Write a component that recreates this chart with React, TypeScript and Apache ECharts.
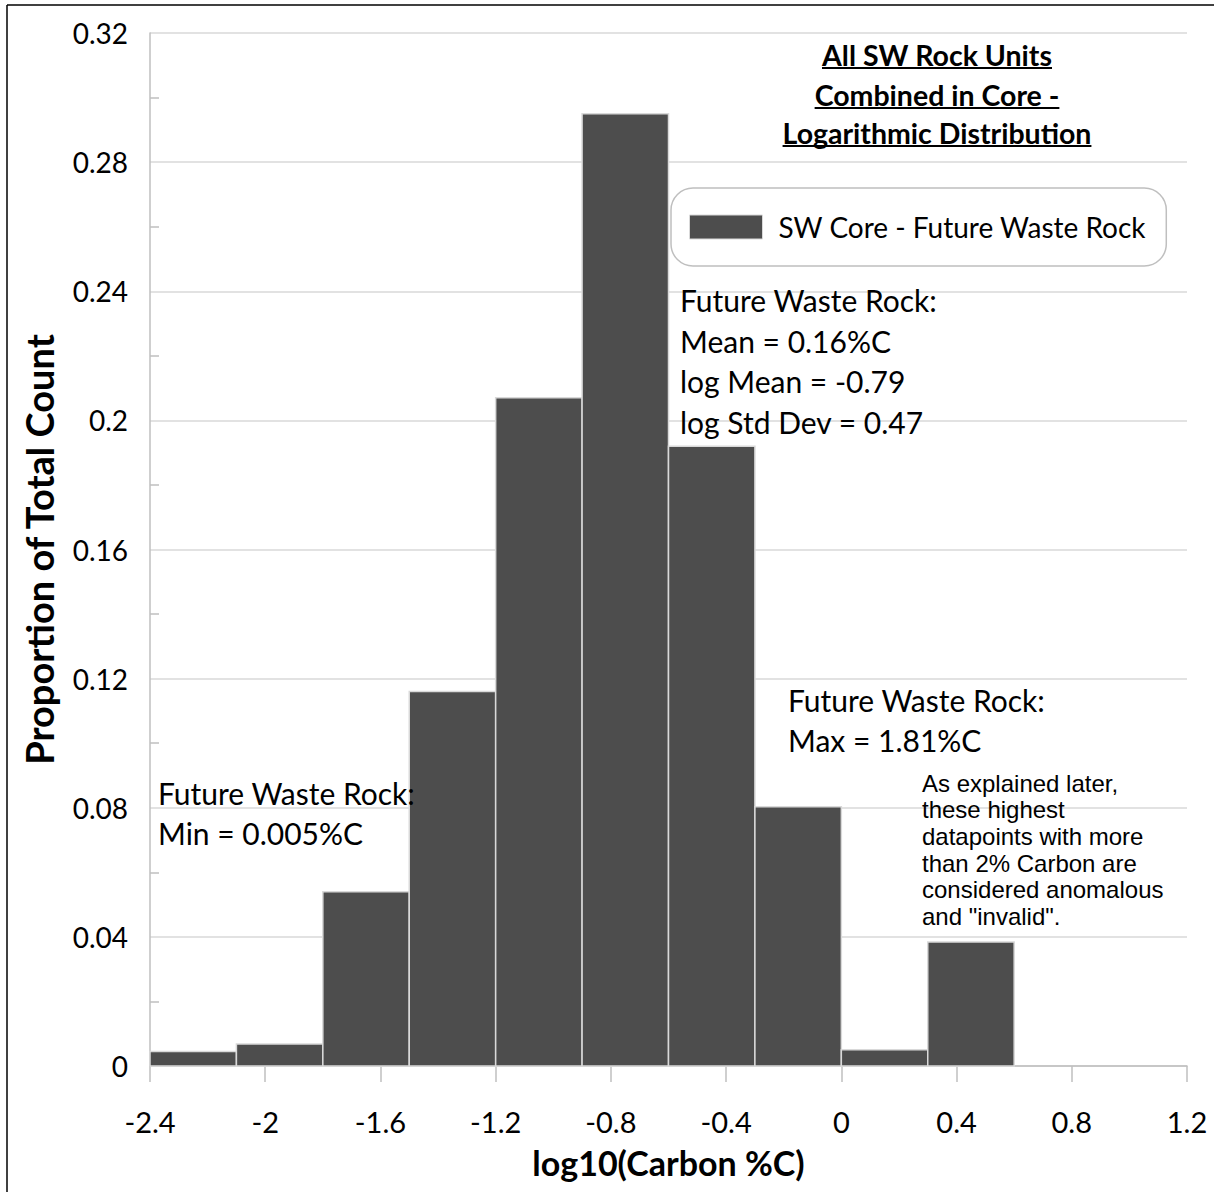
import React, { useEffect, useRef } from "react";
import * as echarts from "echarts";

// ---- data ----
const binLower = [-2.4, -2.1, -1.8, -1.5, -1.2, -0.9, -0.6, -0.3, 0.0, 0.3];
const binUpper = [-2.1, -1.8, -1.5, -1.2, -0.9, -0.6, -0.3, 0.0, 0.3, 0.6];
const proportions = [0.0045, 0.0068, 0.054, 0.116, 0.207, 0.295, 0.192, 0.0803, 0.005, 0.0384];
const seriesName = "SW Core - Future Waste Rock";
const titleLines = ["All SW Rock Units", "Combined in Core -", "Logarithmic Distribution"];
const meanNote = ["Future Waste Rock:", "Mean = 0.16%C", "log Mean = -0.79", "log Std Dev = 0.47"];
const minNote = ["Future Waste Rock:", "Min = 0.005%C"];
const maxNote = ["Future Waste Rock:", "Max = 1.81%C"];
const invalidNote = [
  "As explained later,",
  "these highest",
  "datapoints with more",
  "than 2% Carbon are",
  "considered anomalous",
  'and "invalid".',
];

const FONT = "Lato, 'Noto Sans', sans-serif";
const BAR = "#4d4d4d";
const GRID = "#d9d9d9";
const AXIS = "#bfbfbf";

function measure(text: string, font: string): number {
  const c = document.createElement("canvas");
  const ctx = c.getContext("2d");
  if (!ctx) return text.length * 12;
  ctx.font = font;
  return ctx.measureText(text).width;
}

export default function App() {
  const ref = useRef<HTMLDivElement>(null);
  useEffect(() => {
    if (!ref.current) return;
    const chart = echarts.init(ref.current, undefined, { renderer: "svg" });
    const data = binLower.map((lo, i) => [lo, binUpper[i], proportions[i]]);

    const titleSize = 28.5;
    const titleX = 937;
    const titleYs = [55, 95, 133];
    const titleEls: any[] = [];
    titleLines.forEach((t, i) => {
      const w = measure(t, `bold ${titleSize}px Lato`);
      titleEls.push({
        type: "text",
        x: titleX,
        y: titleYs[i],
        style: {
          text: t,
          fill: "#000",
          font: `bold ${titleSize}px ${FONT}`,
          textAlign: "center",
          textVerticalAlign: "middle",
        },
      });
      titleEls.push({
        type: "line",
        shape: { x1: titleX - w / 2, y1: titleYs[i] + 13, x2: titleX + w / 2, y2: titleYs[i] + 13 },
        style: { stroke: "#000", lineWidth: 2 },
      });
    });

    const note = (lines: string[], x: number, y: number, size: number, lh: number, family: string) => ({
      type: "text",
      x,
      y,
      z: 10,
      style: {
        text: lines.join("\n"),
        fill: "#000",
        font: `${size}px ${family}`,
        lineHeight: lh,
        textAlign: "left",
        textVerticalAlign: "top",
      },
    });

    chart.setOption({
      animation: false,
      backgroundColor: "#fff",
      grid: { left: 150, right: 27, top: 33, bottom: 126 },
      legend: {
        left: 671,
        top: 188,
        orient: "horizontal",
        backgroundColor: "#fff",
        borderColor: AXIS,
        borderWidth: 1.5,
        borderRadius: 22,
        padding: [22, 20, 22, 18],
        itemWidth: 73,
        itemHeight: 24,
        textStyle: { fontSize: 28, fontFamily: FONT, color: "#000", padding: [0, 0, 0, 11], lineHeight: 34 },
        data: [{ name: seriesName, icon: "rect", itemStyle: { color: BAR, borderColor: GRID, borderWidth: 1 } }],
      },
      xAxis: {
        type: "value",
        min: -2.4,
        max: 1.2,
        interval: 0.4,
        axisLine: { show: true, onZero: false, lineStyle: { color: AXIS, width: 1.5 } },
        axisTick: { show: true, length: 16, lineStyle: { color: AXIS, width: 1.5 } },
        splitLine: { show: false },
        axisLabel: { fontSize: 29, fontFamily: FONT, color: "#000", margin: 41, lineHeight: 29 },
        name: "log10(Carbon %C)",
        nameLocation: "middle",
        nameGap: 79,
        nameTextStyle: { fontSize: 34, fontWeight: "bold", fontFamily: FONT, color: "#000", lineHeight: 34 },
      },
      yAxis: {
        type: "value",
        min: 0,
        max: 0.32,
        interval: 0.04,
        axisLine: { show: true, onZero: false, lineStyle: { color: AXIS, width: 1.5 } },
        axisTick: { show: false, inside: true },
        minorTick: { show: true, splitNumber: 2, length: 9, lineStyle: { color: AXIS, width: 1.5 } },
        splitLine: { show: true, lineStyle: { color: GRID, width: 1.5 } },
        axisLabel: { fontSize: 28, fontFamily: FONT, color: "#000", margin: 22 },
        name: "Proportion of Total Count",
        nameLocation: "middle",
        nameGap: 92,
        nameTextStyle: { fontSize: 38, fontWeight: "bold", fontFamily: FONT, color: "#000", lineHeight: 38 },
      },
      series: [
        {
          name: seriesName,
          type: "custom",
          itemStyle: { color: BAR },
          encode: { x: [0, 1], y: 2 },
          data,
          renderItem: (params: any, api: any) => {
            const p0 = api.coord([api.value(0), api.value(2)]);
            const p1 = api.coord([api.value(1), 0]);
            return {
              type: "rect",
              shape: { x: p0[0], y: p0[1], width: p1[0] - p0[0], height: p1[1] - p0[1] },
              style: { fill: BAR, stroke: GRID, lineWidth: 1.5 },
            };
          },
        },
      ],
      graphic: [
        { type: "line", shape: { x1: 7, y1: 5, x2: 1214, y2: 5 }, style: { stroke: "#000", lineWidth: 1.5 } },
        { type: "line", shape: { x1: 7, y1: 5, x2: 7, y2: 1192 }, style: { stroke: "#000", lineWidth: 1.5 } },
        ...titleEls,
        note(meanNote, 680, 280, 30, 40.5, FONT),
        note(minNote, 158, 773, 30, 40, FONT),
        note(maxNote, 788, 680, 30, 40, FONT),
        note(invalidNote, 922, 770, 24, 26.6, "'Liberation Sans', Arial, sans-serif"),
      ],
    });
    return () => chart.dispose();
  }, []);
  return (
    <div
      ref={ref}
      style={{ position: "absolute", left: 0, top: 0, width: 1214, height: 1192, background: "#fff" }}
    />
  );
}
